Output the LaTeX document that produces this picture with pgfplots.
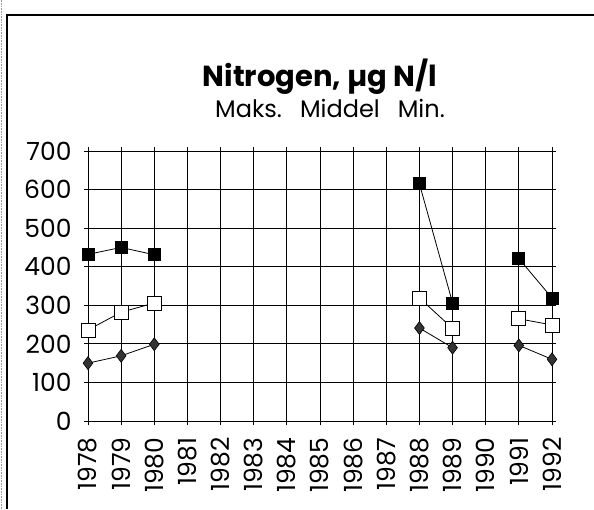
\documentclass[border=0pt]{standalone}
\usepackage{fontspec}
\setmainfont{Poppins}
\usepackage{pgfplots}
\pgfplotsset{compat=1.18}

\begin{document}
\begin{tikzpicture}
\useasboundingbox (0,0) rectangle (594pt,509pt);
% frame of the scanned page
\draw[black!40, line width=0.6pt, densely dotted] (1.5pt,0) -- (1.5pt,509pt);
\draw[line width=1.1pt] (7pt,0) -- (7pt,494pt) -- (594pt,494pt);

\node[anchor=base, font=\bfseries\fontsize{29}{32}\selectfont] at (320pt,422pt) {Nitrogen, µg N/l};
\node[anchor=base, font=\fontsize{24}{27}\selectfont] at (330pt,391pt) {Maks.\hspace{0.75em}Middel\hspace{0.75em}Min.};

\begin{axis}[
  at={(88pt,88pt)}, anchor=south west,
  scale only axis, width=464pt, height=270pt,
  xmin=1978, xmax=1992, ymin=0, ymax=700,
  xtick={1978,...,1992}, ytick={0,100,...,700},
  /pgf/number format/1000 sep={},
  /pgf/number format/assume math mode=true,
  tick label style={font=\fontsize{25}{28}\selectfont},
  xticklabel style={rotate=90, anchor=east, xshift=-9pt},
  yticklabel style={xshift=-9pt},
  tick align=outside, major tick length=4pt,
  tick style={black, line width=0.8pt},
  grid=major, grid style={black, line width=0.8pt},
  axis line style={black, line width=0.8pt},
  unbounded coords=jump,
  clip=false,
]
  % Min
  \addplot[black, line width=0.8pt, mark=diamond*, mark size=6.5pt,
    mark options={fill=black!80, draw=black, line width=0.6pt}]
    coordinates {(1978,150)(1979,169)(1980,199)(1981,nan)
                 (1988,241)(1989,190)(1990,nan)(1991,196)(1992,160)};
  % Middel
  \addplot[black, line width=0.8pt, mark=square*, mark size=7pt,
    mark options={fill=white, draw=black, line width=0.8pt}]
    coordinates {(1978,236)(1979,282)(1980,306)(1981,nan)
                 (1988,319)(1989,240)(1990,nan)(1991,265)(1992,249)};
  % Maks
  \addplot[black, line width=0.8pt, mark=square*, mark size=6pt,
    mark options={fill=black, draw=black}]
    coordinates {(1978,432)(1979,450)(1980,431)(1981,nan)
                 (1988,615)(1989,306)(1990,nan)(1991,421)(1992,319)};
\end{axis}
\end{tikzpicture}
\end{document}
